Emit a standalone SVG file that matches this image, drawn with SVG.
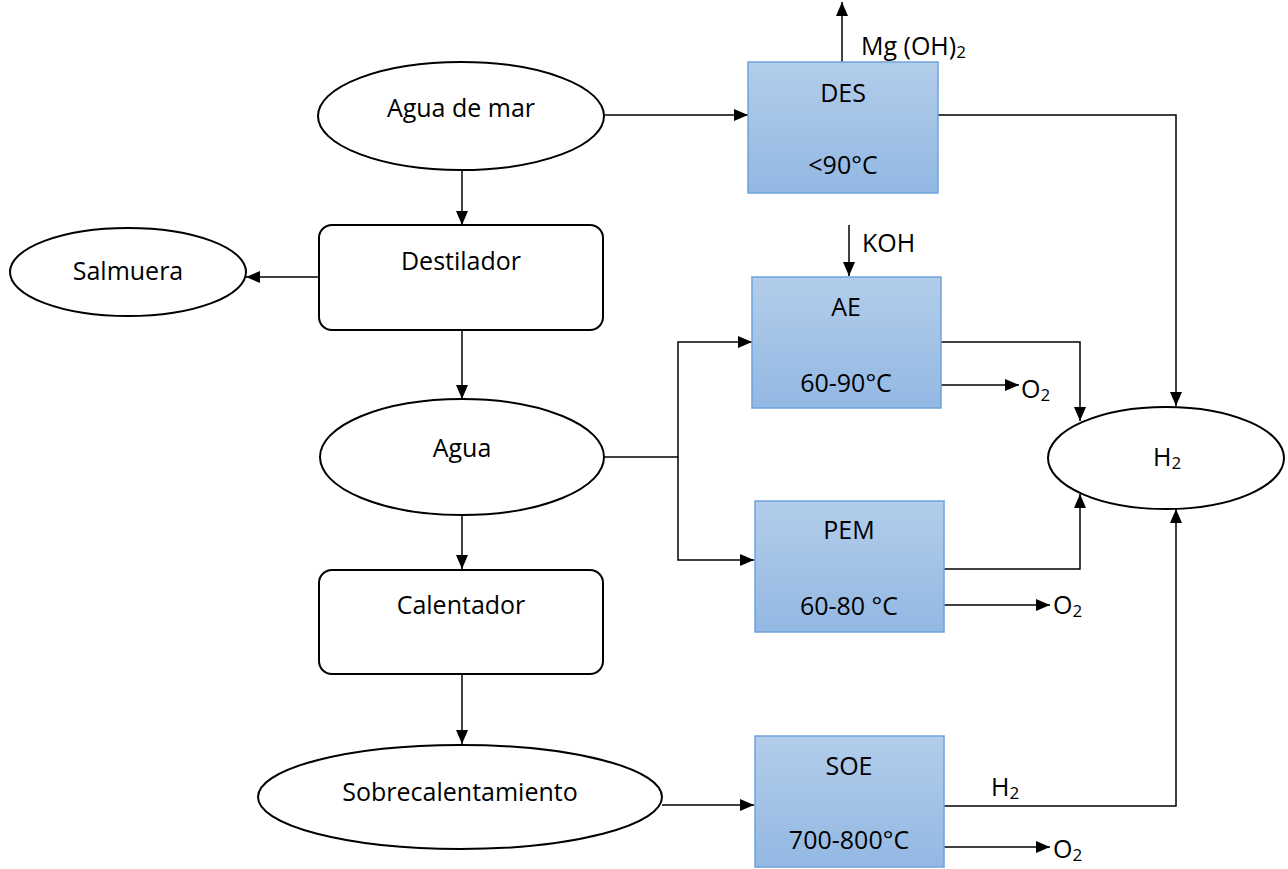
<svg xmlns="http://www.w3.org/2000/svg" width="1288" height="869" viewBox="0 0 1288 869">
<defs>
<linearGradient id="blue" x1="0" y1="0" x2="0" y2="1">
<stop offset="0" stop-color="#b2cdea"/>
<stop offset="1" stop-color="#93b8e3"/>
</linearGradient>
<marker id="ah" viewBox="0 0 14 12" refX="14" refY="6" markerWidth="14" markerHeight="12" markerUnits="userSpaceOnUse" orient="auto">
<path d="M0,0 L14,6 L0,12 Z" fill="#000"/>
</marker>
</defs>
<style>
text{font-family:"Open Sans","Liberation Sans",Arial,sans-serif;font-size:25px;fill:#000}
.c{text-anchor:middle}
.sh{fill:#fff;stroke:#000;stroke-width:2}
.bx{fill:url(#blue);stroke:#6fa3da;stroke-width:1.5}
.ln{fill:none;stroke:#000;stroke-width:1.5}
.ar{fill:none;stroke:#000;stroke-width:1.5;marker-end:url(#ah)}
.sub{font-size:17px}
</style>
<rect width="1288" height="869" fill="#fff"/>
<g id="connectors">
<path class="ar" d="M462,171 V225"/>
<path class="ar" d="M320,277 H246"/>
<path class="ar" d="M462,331 V399"/>
<path class="ar" d="M462,516 V569"/>
<path class="ar" d="M462,674 V744"/>
<path class="ar" d="M605,115 H748"/>
<path class="ar" d="M842,62 V2"/>
<path class="ar" d="M849,225 V276"/>
<path class="ar" d="M938,115 H1176 V406"/>
<path class="ln" d="M604,457 H678"/>
<path class="ar" d="M678,457 V342 H752"/>
<path class="ar" d="M678,457 V560 H754"/>
<path class="ar" d="M941,342 H1080 V421"/>
<path class="ar" d="M941,385 H1019"/>
<path class="ar" d="M944,569 H1080 V494"/>
<path class="ar" d="M944,605 H1050"/>
<path class="ar" d="M662,805 H754"/>
<path class="ar" d="M944,806 H1176 V509"/>
<path class="ar" d="M944,847 H1050"/>
</g>
<g id="agua-de-mar"><ellipse class="sh" cx="461" cy="116" rx="143" ry="54"/><text class="c" x="461" y="117">Agua de mar</text></g>
<g id="destilador"><rect class="sh" x="319" y="225" width="284" height="105" rx="13"/><text class="c" x="461" y="270">Destilador</text></g>
<g id="salmuera"><ellipse class="sh" cx="128" cy="272" rx="118" ry="44"/><text class="c" x="128" y="280">Salmuera</text></g>
<g id="agua"><ellipse class="sh" cx="462" cy="457" rx="142" ry="58"/><text class="c" x="462" y="457">Agua</text></g>
<g id="calentador"><rect class="sh" x="319" y="570" width="284" height="104" rx="13"/><text class="c" x="461" y="614">Calentador</text></g>
<g id="sobrecalentamiento"><ellipse class="sh" cx="460" cy="797" rx="202" ry="52"/><text class="c" x="460" y="801">Sobrecalentamiento</text></g>
<g id="des"><rect class="bx" x="748" y="62" width="190" height="131"/><text class="c" x="843" y="102">DES</text><text class="c" x="843" y="174">&lt;90°C</text></g>
<g id="mgoh"><text x="861" y="55">Mg (OH)<tspan class="sub" dy="3">2</tspan></text></g>
<g id="koh"><text x="862" y="252">KOH</text></g>
<g id="ae"><rect class="bx" x="752" y="277" width="189" height="131"/><text class="c" x="846" y="316">AE</text><text class="c" x="846" y="392">60-90°C</text></g>
<g id="pem"><rect class="bx" x="755" y="501" width="189" height="131"/><text class="c" x="849" y="539">PEM</text><text class="c" x="849" y="615">60-80 °C</text></g>
<g id="soe"><rect class="bx" x="755" y="736" width="189" height="131"/><text class="c" x="849" y="775">SOE</text><text class="c" x="849" y="849">700-800°C</text></g>
<g id="h2"><ellipse class="sh" cx="1166" cy="458" rx="118" ry="51"/><text x="1153" y="466">H<tspan class="sub" dy="3">2</tspan></text></g>
<g id="labels">
<text x="1021" y="398">O<tspan class="sub" dy="3">2</tspan></text>
<text x="1053" y="614">O<tspan class="sub" dy="3">2</tspan></text>
<text x="1053" y="858">O<tspan class="sub" dy="3">2</tspan></text>
<text x="991" y="796">H<tspan class="sub" dy="3">2</tspan></text>
</g>
</svg>
